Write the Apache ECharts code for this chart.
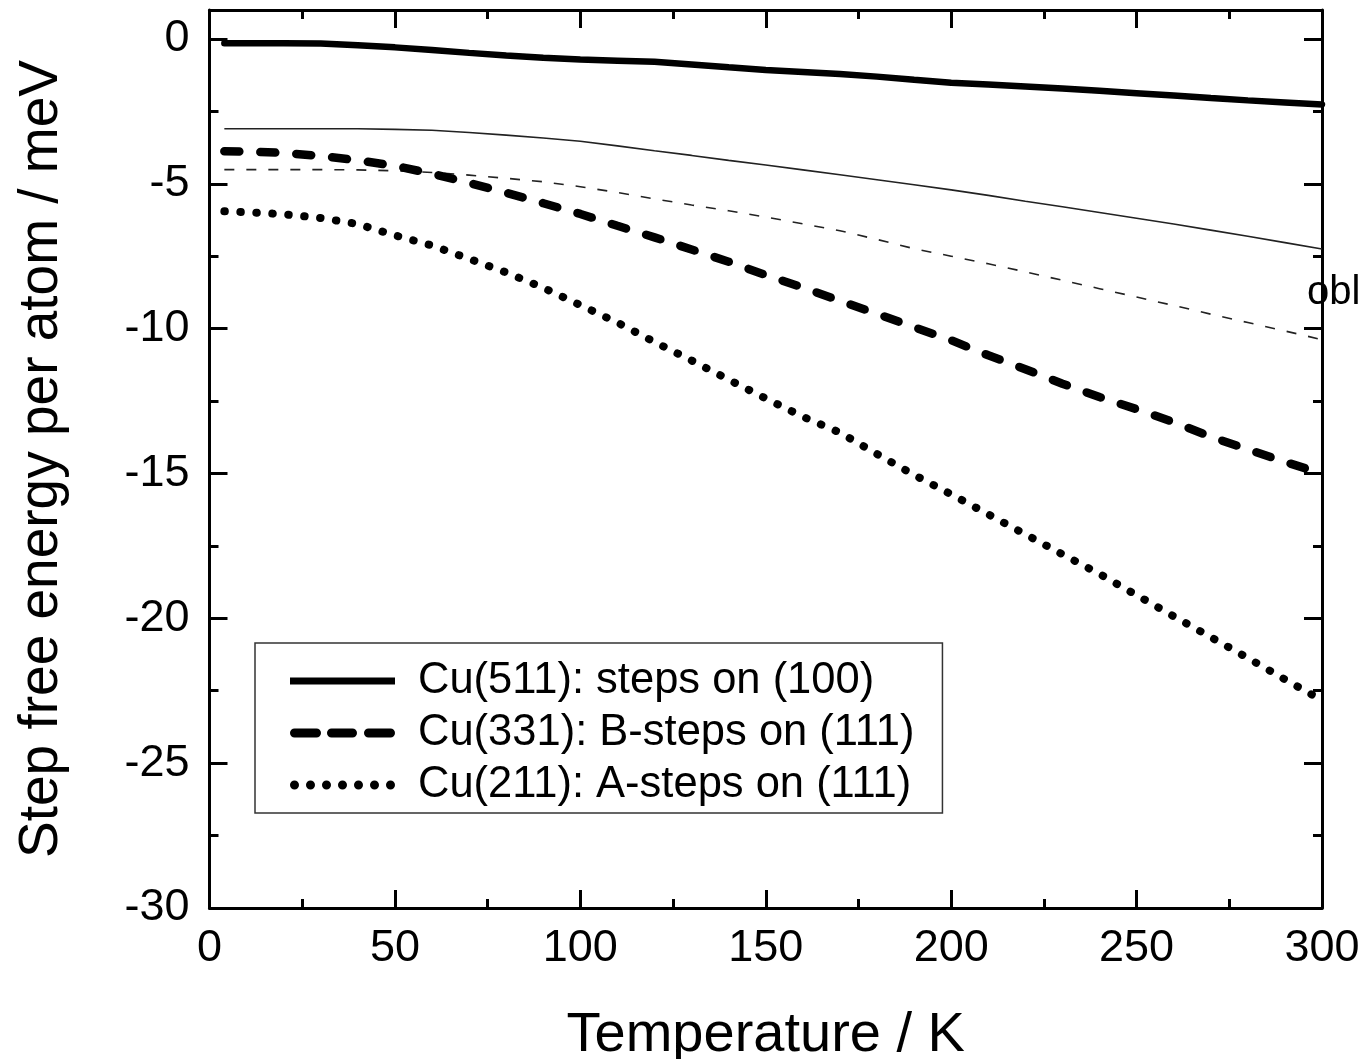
<!DOCTYPE html>
<html>
<head>
<meta charset="utf-8">
<script src="https://cdn.jsdelivr.net/npm/echarts@6/dist/echarts.min.js"></script>
<style>
html,body{margin:0;padding:0;background:#fff;}
#chart{width:1366px;height:1059px;}
</style>
</head>
<body>
<div id="chart"></div>
<script>
// Temperature (K)
const temperature = [4,10,20,30,40,50,60,70,80,90,100,110,120,130,140,150,160,170,180,190,200,210,220,230,240,250,260,270,280,290,300];
// Cu(511): steps on (100) - thick solid
const cu511 = [-0.15,-0.15,-0.15,-0.16,-0.22,-0.29,-0.38,-0.48,-0.57,-0.65,-0.71,-0.75,-0.79,-0.88,-0.98,-1.07,-1.14,-1.21,-1.30,-1.41,-1.51,-1.57,-1.64,-1.71,-1.79,-1.87,-1.95,-2.04,-2.12,-2.19,-2.26];
// thin solid companion curve
const cu511Thin = [-3.10,-3.10,-3.10,-3.10,-3.10,-3.12,-3.15,-3.23,-3.32,-3.42,-3.53,-3.69,-3.86,-4.02,-4.19,-4.35,-4.52,-4.69,-4.86,-5.03,-5.21,-5.40,-5.60,-5.79,-5.99,-6.19,-6.39,-6.60,-6.81,-7.03,-7.25];
// Cu(331): B-steps on (111) - thick dashed
const cu331 = [-3.88,-3.89,-3.93,-4.04,-4.19,-4.38,-4.65,-4.97,-5.31,-5.67,-6.04,-6.45,-6.85,-7.27,-7.69,-8.15,-8.58,-9.04,-9.49,-9.95,-10.40,-10.92,-11.40,-11.90,-12.36,-12.78,-13.23,-13.73,-14.17,-14.60,-15.00];
// thin dashed companion curve
const cu331Thin = [-4.51,-4.51,-4.51,-4.51,-4.52,-4.55,-4.61,-4.70,-4.81,-4.93,-5.10,-5.30,-5.52,-5.73,-5.93,-6.15,-6.38,-6.62,-6.92,-7.24,-7.50,-7.76,-8.04,-8.33,-8.62,-8.91,-9.20,-9.50,-9.79,-10.08,-10.38];
// Cu(211): A-steps on (111) - dotted
const cu211 = [-5.95,-5.98,-6.05,-6.18,-6.39,-6.78,-7.13,-7.59,-8.06,-8.59,-9.19,-9.79,-10.46,-11.10,-11.76,-12.41,-13.04,-13.59,-14.33,-15.05,-15.72,-16.41,-17.10,-17.79,-18.47,-19.20,-19.93,-20.65,-21.37,-22.11,-22.83];

const seriesNames = ['Cu(511): steps on (100)','Cu(331): B-steps on (111)','Cu(211): A-steps on (111)'];
const xTicks = [0,50,100,150,200,250,300];
const yTicks = [0,-5,-10,-15,-20,-25,-30];

const FONT = '"Liberation Sans", Arial, Helvetica, sans-serif';
const pair = arr => temperature.map((t,i)=>[t,arr[i]]);

// legend sample shapes (105 x 9 box)
function rr(x0, x1){ // rounded dash
  const r = 4.5;
  return 'M' + (x0+r) + ',0 H' + (x1-r) + ' A' + r + ',' + r + ' 0 0 1 ' + (x1-r) + ',9 H' + (x0+r) + ' A' + r + ',' + r + ' 0 0 1 ' + (x0+r) + ',0 Z ';
}
function dot(cx){
  const r = 4.5;
  return 'M' + (cx-r) + ',4.5 A' + r + ',' + r + ' 0 1 0 ' + (cx+r) + ',4.5 A' + r + ',' + r + ' 0 1 0 ' + (cx-r) + ',4.5 Z ';
}
const iconSolid = 'path://M0,1 H105 V8 H0 Z M0,0 L0.01,0 L0,0.01 Z M105,9 L104.99,9 L105,8.99 Z';
const iconDash = 'path://' + rr(0,31) + rr(37,67) + rr(74,105);
const iconDot = 'path://' + [4.5,20.5,36.5,52.5,68.5,84.5,100.5].map(dot).join('');

const chart = echarts.init(document.getElementById('chart'), null, {renderer:'canvas'});

const axisLineStyle = {show:true, onZero:false, lineStyle:{color:'#000', width:3}};
function yAxisDef(pos, major, labels){
  return {
    type:'value', position:pos, min:-30, max:1, interval: major ? 5 : 2.5,
    axisLine: major ? axisLineStyle : {show:false, onZero:false},
    axisTick:{show:true, inside:true, length: major ? 18 : 9, lineStyle:{color:'#000', width:3}},
    axisLabel:{show:labels, margin:20, fontSize:45, color:'#000', fontFamily:FONT,
      formatter: v => (yTicks.indexOf(v) >= 0 ? String(v) : '')},
    splitLine:{show:false},
    name: labels ? 'Step free energy per atom / meV' : '',
    nameLocation:'middle', nameGap:140, nameRotate:90,
    nameTextStyle:{fontSize:55, color:'#000', fontFamily:FONT}
  };
}
function xAxisDef(pos, labels){
  return {
    type:'value', position:pos, min:0, max:300, interval:50,
    axisLine: axisLineStyle,
    axisTick:{show:true, inside:true, length:18, lineStyle:{color:'#000', width:3}},
    minorTick:{show:true, splitNumber:2, length:9, lineStyle:{color:'#000', width:3}},
    axisLabel:{show:labels, margin:18, fontSize:45, color:'#000', fontFamily:FONT,
      formatter: v => (xTicks.indexOf(v) >= 0 ? String(v) : '')},
    splitLine:{show:false}, minorSplitLine:{show:false},
    name: labels ? 'Temperature / K' : '',
    nameLocation:'middle', nameGap:100,
    nameTextStyle:{fontSize:56, color:'#000', fontFamily:FONT}
  };
}

const option = {
  backgroundColor:'#fff',
  animation:false,
  grid:{left:209.5, right:44, top:10, bottom:151, containLabel:false, outerBoundsMode:'none'},
  xAxis:[xAxisDef('bottom', true), xAxisDef('top', false)],
  yAxis:[yAxisDef('left', true, true), yAxisDef('left', false, false), yAxisDef('right', true, false), yAxisDef('right', false, false)],
  legend:{
    data: [
      {name:seriesNames[0], icon:iconSolid},
      {name:seriesNames[1], icon:iconDash},
      {name:seriesNames[2], icon:iconDot}
    ],
    orient:'vertical', left:255, top:643,
    padding:[12, 28, 2, 35],
    itemGap:0, itemWidth:105, itemHeight:9,
    itemStyle:{color:'#000', borderWidth:0},
    borderColor:'#333', borderWidth:1.5, backgroundColor:'#fff',
    textStyle:{fontSize:43.5, color:'#000', fontFamily:FONT, lineHeight:52, padding:[0,0,0,18]},
    selectedMode:false
  },
  graphic:[{
    type:'text', left:1307, top:273, silent:true,
    style:{text:'obl', fontSize:40, fill:'#000', fontFamily:FONT}
  }],
  series:[
    {name:'thin-511', type:'line', data:pair(cu511Thin), symbol:'none',
      lineStyle:{color:'#222', width:1.6}, z:2},
    {name:'thin-331', type:'line', data:pair(cu331Thin), symbol:'none',
      lineStyle:{color:'#222', width:1.6, type:[10,12]}, z:2},
    {name:seriesNames[0], type:'line', data:pair(cu511), symbol:'none',
      lineStyle:{color:'#000', width:6.5, cap:'round'}, itemStyle:{color:'#000'}, z:3},
    {name:seriesNames[1], type:'line', data:pair(cu331), symbol:'none',
      lineStyle:{color:'#000', width:8.5, type:[15,21], cap:'round'}, itemStyle:{color:'#000'}, z:3},
    {name:seriesNames[2], type:'line', data:pair(cu211), symbol:'none',
      lineStyle:{color:'#000', width:8, type:[0.5,15.5], cap:'round'}, itemStyle:{color:'#000'}, z:3}
  ]
};
chart.setOption(option);
</script>
</body>
</html>
